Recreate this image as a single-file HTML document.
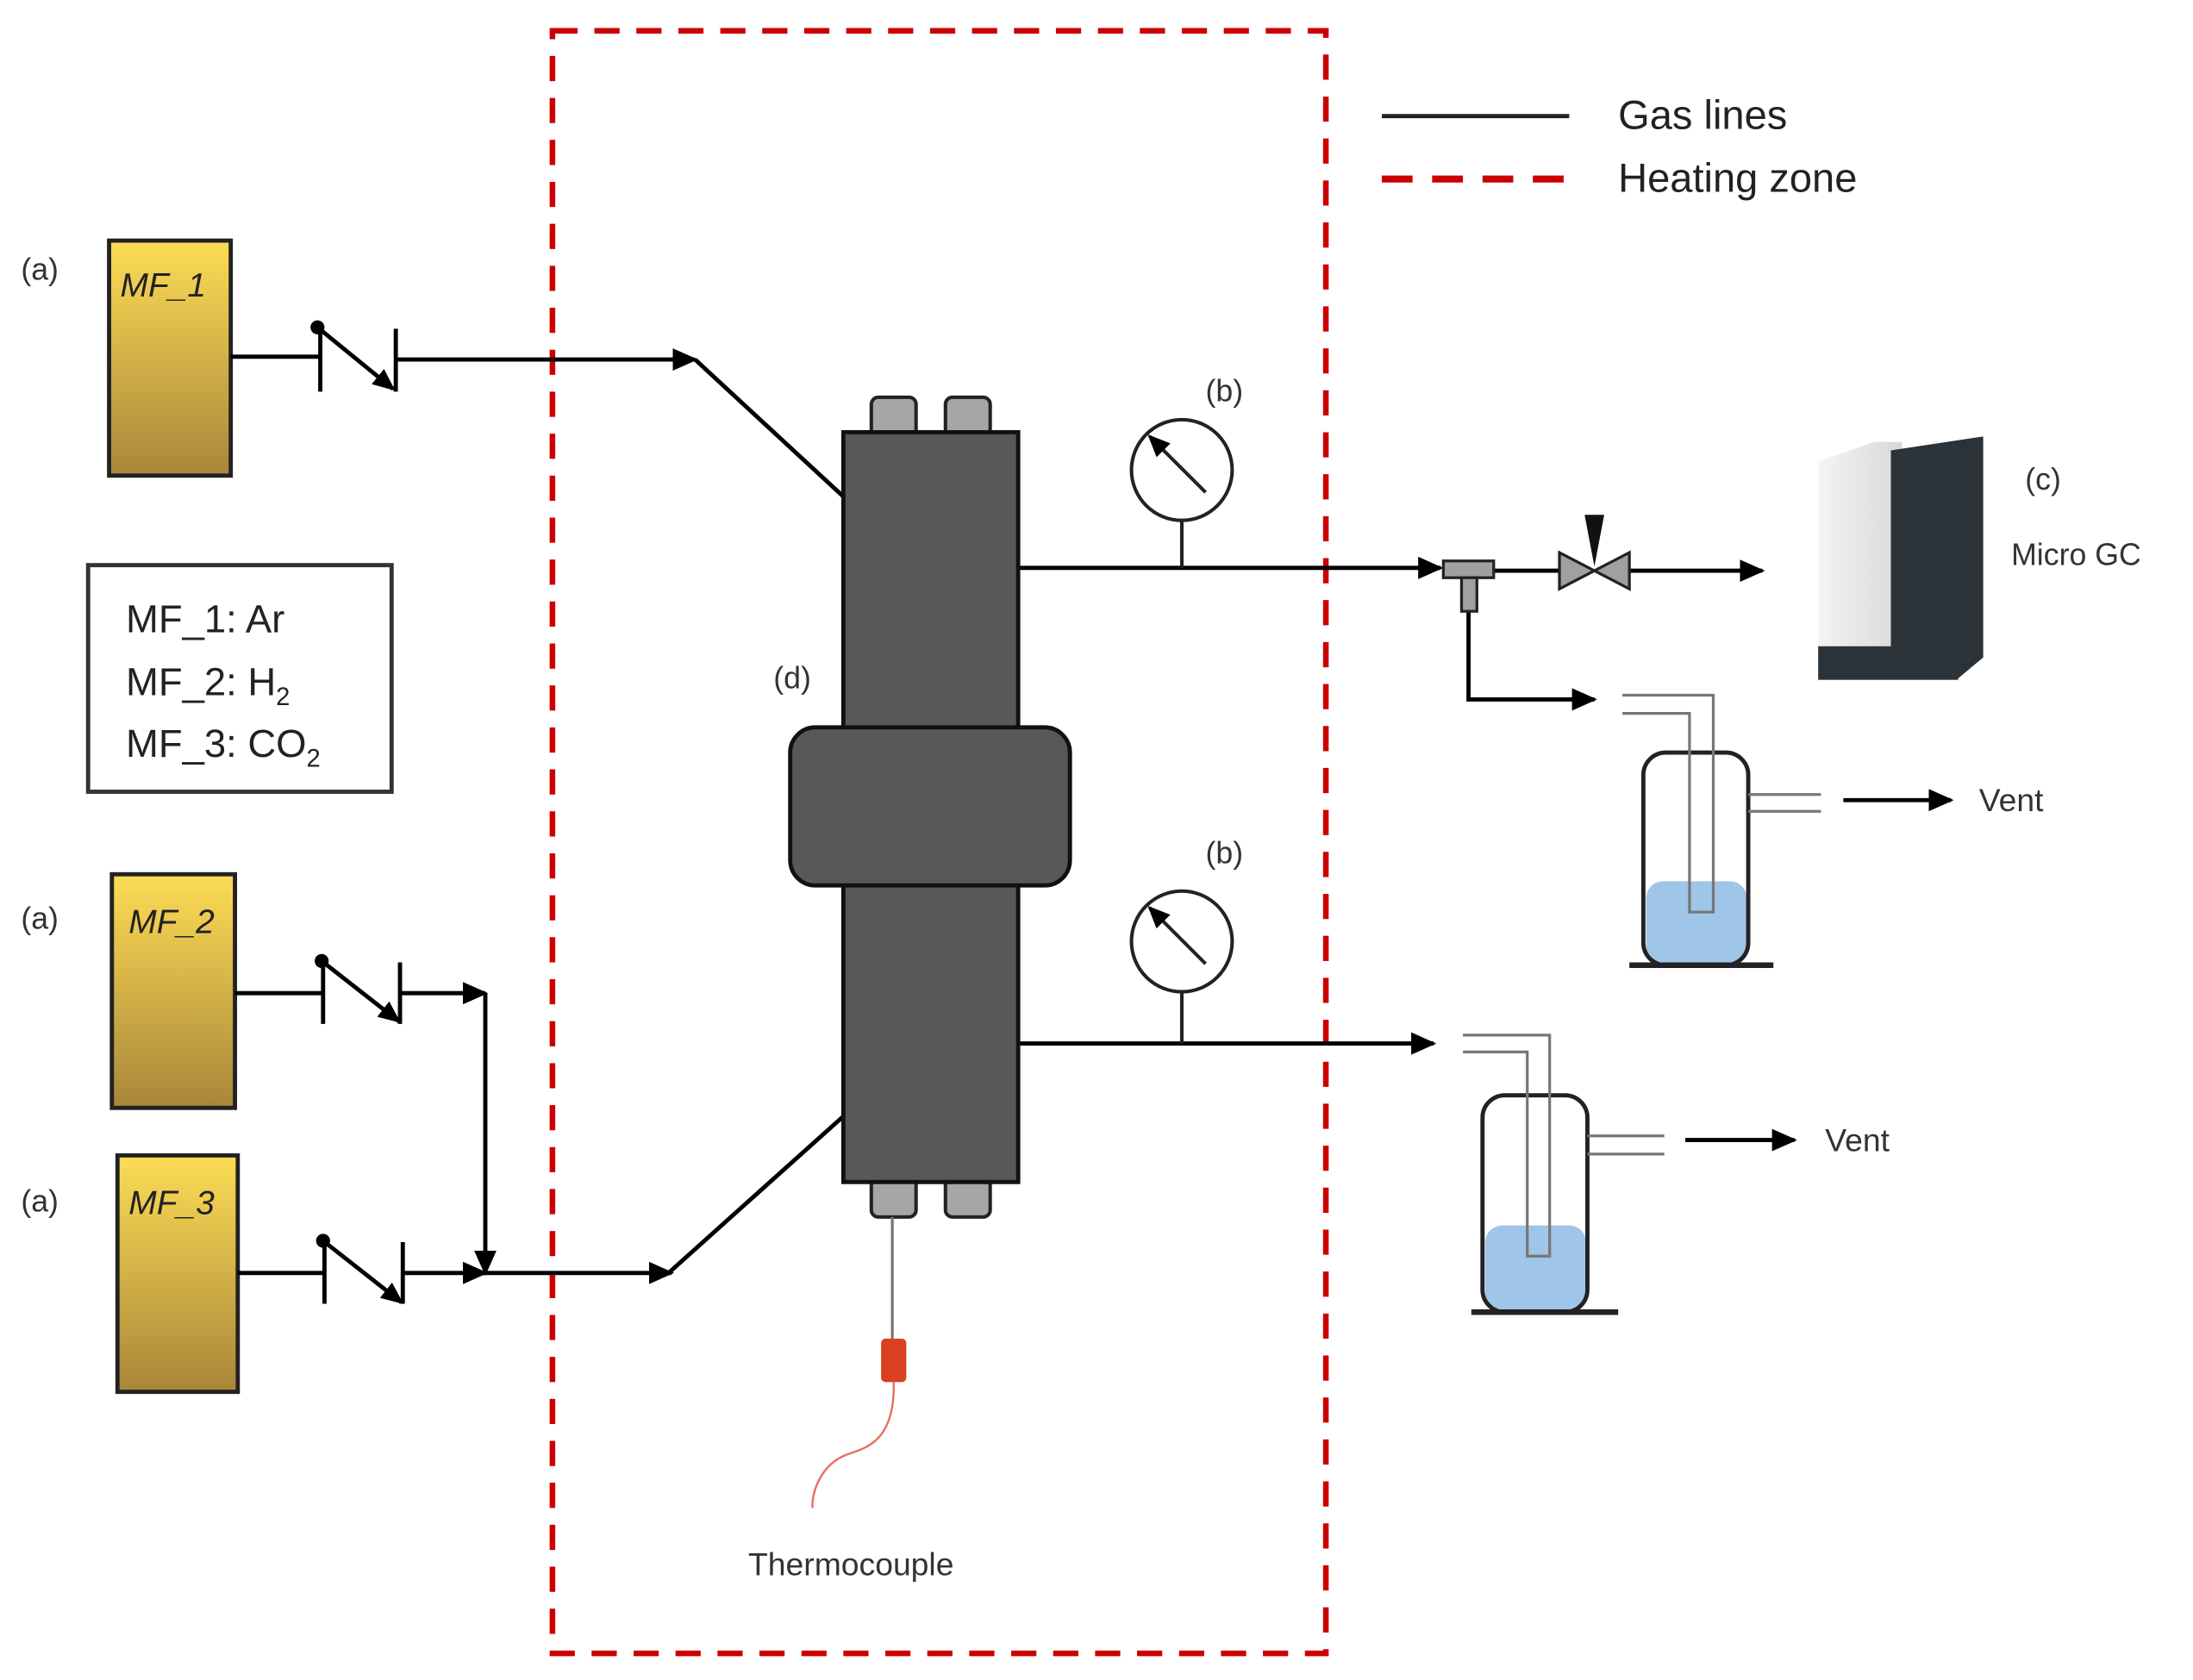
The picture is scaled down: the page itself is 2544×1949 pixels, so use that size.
<!DOCTYPE html>
<html><head><meta charset="utf-8"><style>html,body{margin:0;padding:0;background:#fff}svg{display:block}</style></head><body>
<svg width="2544" height="1949" viewBox="0 0 1568 1201" preserveAspectRatio="none" xmlns="http://www.w3.org/2000/svg" font-family="Liberation Sans, sans-serif">
<defs>
<linearGradient id="g" x1="0" y1="0" x2="0" y2="1"><stop offset="0" stop-color="#fddc55"/><stop offset="1" stop-color="#a8863a"/></linearGradient>
<linearGradient id="gc" x1="0" y1="0" x2="1" y2="0"><stop offset="0" stop-color="#f4f4f4"/><stop offset="1" stop-color="#d8d8d8"/></linearGradient>
<marker id="ar" markerWidth="18" markerHeight="16" refX="16" refY="8" orient="auto" markerUnits="userSpaceOnUse"><path d="M0,0 L18,8 L0,16 Z" fill="#000"/></marker>
<marker id="as" markerWidth="16" markerHeight="14" refX="14" refY="7" orient="auto" markerUnits="userSpaceOnUse"><path d="M0,0 L16,7 L0,14 Z" fill="#000"/></marker>
</defs>
<g fill="#000">
<rect x="395" y="22" width="553" height="1160" fill="none" stroke="#cc0000" stroke-width="4" stroke-dasharray="18,12"/>
<line x1="988" y1="83" x2="1122" y2="83" stroke="#222" stroke-width="3"/>
<line x1="988" y1="128" x2="1122" y2="128" stroke="#cc0000" stroke-width="5" stroke-dasharray="22,14"/>
<text x="1157" y="92" font-size="29" fill="#222">Gas lines</text>
<text x="1157" y="137" font-size="29" fill="#222">Heating zone</text>

<rect x="78" y="172" width="87" height="168" fill="url(#g)" stroke="#222" stroke-width="3"/>
<rect x="80" y="625" width="88" height="167" fill="url(#g)" stroke="#222" stroke-width="3"/>
<rect x="84" y="826" width="86" height="169" fill="url(#g)" stroke="#222" stroke-width="3"/>
<text x="86" y="212" font-size="24" font-style="italic" fill="#222">MF_1</text>
<text x="92" y="667" font-size="24" font-style="italic" fill="#222">MF_2</text>
<text x="92" y="868" font-size="24" font-style="italic" fill="#222">MF_3</text>
<text x="15" y="200" font-size="22" fill="#333">(a)</text>
<text x="15" y="664" font-size="22" fill="#333">(a)</text>
<text x="15" y="866" font-size="22" fill="#333">(a)</text>

<rect x="63" y="404" width="217" height="162" fill="#fff" stroke="#333" stroke-width="3"/>
<text x="90" y="452" font-size="28" fill="#222">MF_1: Ar</text>
<text x="90" y="497" font-size="28" fill="#222">MF_2: H<tspan font-size="18" dy="7">2</tspan></text>
<text x="90" y="541" font-size="28" fill="#222">MF_3: CO<tspan font-size="18" dy="7">2</tspan></text>

<g stroke="#000" stroke-width="3" fill="none">
<line x1="165" y1="255" x2="229" y2="255"/>
<line x1="229" y1="235" x2="229" y2="280"/>
<line x1="283" y1="235" x2="283" y2="280"/>
<line x1="227" y1="234" x2="281" y2="278" marker-end="url(#as)"/>
<line x1="283" y1="257" x2="497" y2="257" marker-end="url(#ar)"/>
<line x1="497" y1="257" x2="603" y2="355"/>
<line x1="168" y1="710" x2="231" y2="710"/>
<line x1="231" y1="688" x2="231" y2="732"/>
<line x1="286" y1="688" x2="286" y2="732"/>
<line x1="230" y1="687" x2="285" y2="730" marker-end="url(#as)"/>
<line x1="286" y1="710" x2="347" y2="710" marker-end="url(#ar)"/>
<line x1="347" y1="710" x2="347" y2="910" marker-end="url(#ar)"/>
<line x1="170" y1="910" x2="232" y2="910"/>
<line x1="232" y1="888" x2="232" y2="932"/>
<line x1="288" y1="888" x2="288" y2="932"/>
<line x1="231" y1="887" x2="287" y2="931" marker-end="url(#as)"/>
<line x1="288" y1="910" x2="347" y2="910" marker-end="url(#ar)"/>
<line x1="347" y1="910" x2="480" y2="910" marker-end="url(#ar)"/>
<line x1="478" y1="910" x2="603" y2="798"/>
<line x1="728" y1="406" x2="1030" y2="406" marker-end="url(#ar)"/>
<line x1="728" y1="746" x2="1025" y2="746" marker-end="url(#ar)"/>
<line x1="1068" y1="408" x2="1115" y2="408"/>
<line x1="1165" y1="408" x2="1260" y2="408" marker-end="url(#ar)"/>
<polyline points="1050,437 1050,500 1140,500" marker-end="url(#ar)"/>
<line x1="1318" y1="572" x2="1395" y2="572" marker-end="url(#ar)"/>
<line x1="1205" y1="815" x2="1283" y2="815" marker-end="url(#ar)"/>
</g>
<circle cx="227" cy="234" r="5"/><circle cx="230" cy="687" r="5"/><circle cx="231" cy="887" r="5"/>

<rect x="623" y="284" width="32" height="30" rx="5" fill="#a6a6a6" stroke="#222" stroke-width="2.5"/>
<rect x="676" y="284" width="32" height="30" rx="5" fill="#a6a6a6" stroke="#222" stroke-width="2.5"/>
<rect x="623" y="840" width="32" height="30" rx="5" fill="#a6a6a6" stroke="#222" stroke-width="2.5"/>
<rect x="676" y="840" width="32" height="30" rx="5" fill="#a6a6a6" stroke="#222" stroke-width="2.5"/>
<rect x="603" y="309" width="125" height="536" fill="#585858" stroke="#111" stroke-width="3"/>
<rect x="565" y="520" width="200" height="113" rx="18" fill="#585858" stroke="#111" stroke-width="3"/>
<text x="553" y="492" font-size="22" fill="#333">(d)</text>

<line x1="638" y1="870" x2="638" y2="958" stroke="#777" stroke-width="2"/>
<rect x="630" y="957" width="18" height="31" rx="3" fill="#d84020"/>
<path d="M639,988 C640,1030 620,1035 605,1040 C585,1048 580,1070 581,1078" fill="none" stroke="#e87060" stroke-width="1.5"/>
<text x="535" y="1126" font-size="23" fill="#333">Thermocouple</text>

<g stroke="#222" stroke-width="2.5" fill="none">
<circle cx="845" cy="336" r="36"/><line x1="845" y1="372" x2="845" y2="406"/>
<circle cx="845" cy="673" r="36"/><line x1="845" y1="709" x2="845" y2="746"/>
<line x1="862" y1="352" x2="822" y2="312" marker-end="url(#as)"/>
<line x1="862" y1="689" x2="822" y2="649" marker-end="url(#as)"/>
</g>
<text x="862" y="287" font-size="22" fill="#333">(b)</text>
<text x="862" y="617" font-size="22" fill="#333">(b)</text>

<rect x="1032" y="401" width="36" height="12" fill="#a0a0a0" stroke="#222" stroke-width="2"/>
<rect x="1045" y="413" width="11" height="24" fill="#a0a0a0" stroke="#222" stroke-width="2"/>
<path d="M1115,395 L1140,408 L1115,421 Z M1165,395 L1140,408 L1165,421 Z" fill="#a0a0a0" stroke="#222" stroke-width="2"/>
<path d="M1133,368 L1147,368 L1140,405 Z" fill="#111"/>

<!-- Micro GC -->
<path d="M1300,330 L1340,316 L1360,316 L1360,470 L1300,470 Z" fill="url(#gc)"/>
<path d="M1352,322 L1418,312 L1418,470 L1400,485 L1352,485 Z" fill="#2b3238"/>
<rect x="1300" y="462" width="100" height="24" fill="#2b3238"/>
<text x="1448" y="350" font-size="22" fill="#333">(c)</text>
<text x="1438" y="404" font-size="22" fill="#333">Micro GC</text>

<rect x="1177" y="630" width="72" height="58" rx="12" fill="#9fc5e8"/>
<rect x="1175" y="538" width="75" height="152" rx="16" fill="none" stroke="#222" stroke-width="3"/>
<line x1="1165" y1="690" x2="1268" y2="690" stroke="#222" stroke-width="4"/>
<g fill="none" stroke="#777" stroke-width="2">
<polyline points="1160,497 1225,497 1225,652 1208,652 1208,510 1160,510"/>
<line x1="1250" y1="568" x2="1302" y2="568"/><line x1="1250" y1="580" x2="1302" y2="580"/>
</g>
<text x="1415" y="580" font-size="23" fill="#333">Vent</text>

<rect x="1062" y="876" width="72" height="60" rx="12" fill="#9fc5e8"/>
<rect x="1060" y="783" width="75" height="155" rx="16" fill="none" stroke="#222" stroke-width="3"/>
<line x1="1052" y1="938" x2="1157" y2="938" stroke="#222" stroke-width="4"/>
<g fill="none" stroke="#777" stroke-width="2">
<polyline points="1046,740 1108,740 1108,898 1092,898 1092,752 1046,752"/>
<line x1="1135" y1="812" x2="1190" y2="812"/><line x1="1135" y1="825" x2="1190" y2="825"/>
</g>
<text x="1305" y="823" font-size="23" fill="#333">Vent</text>
</g>
</svg>
</body></html>
